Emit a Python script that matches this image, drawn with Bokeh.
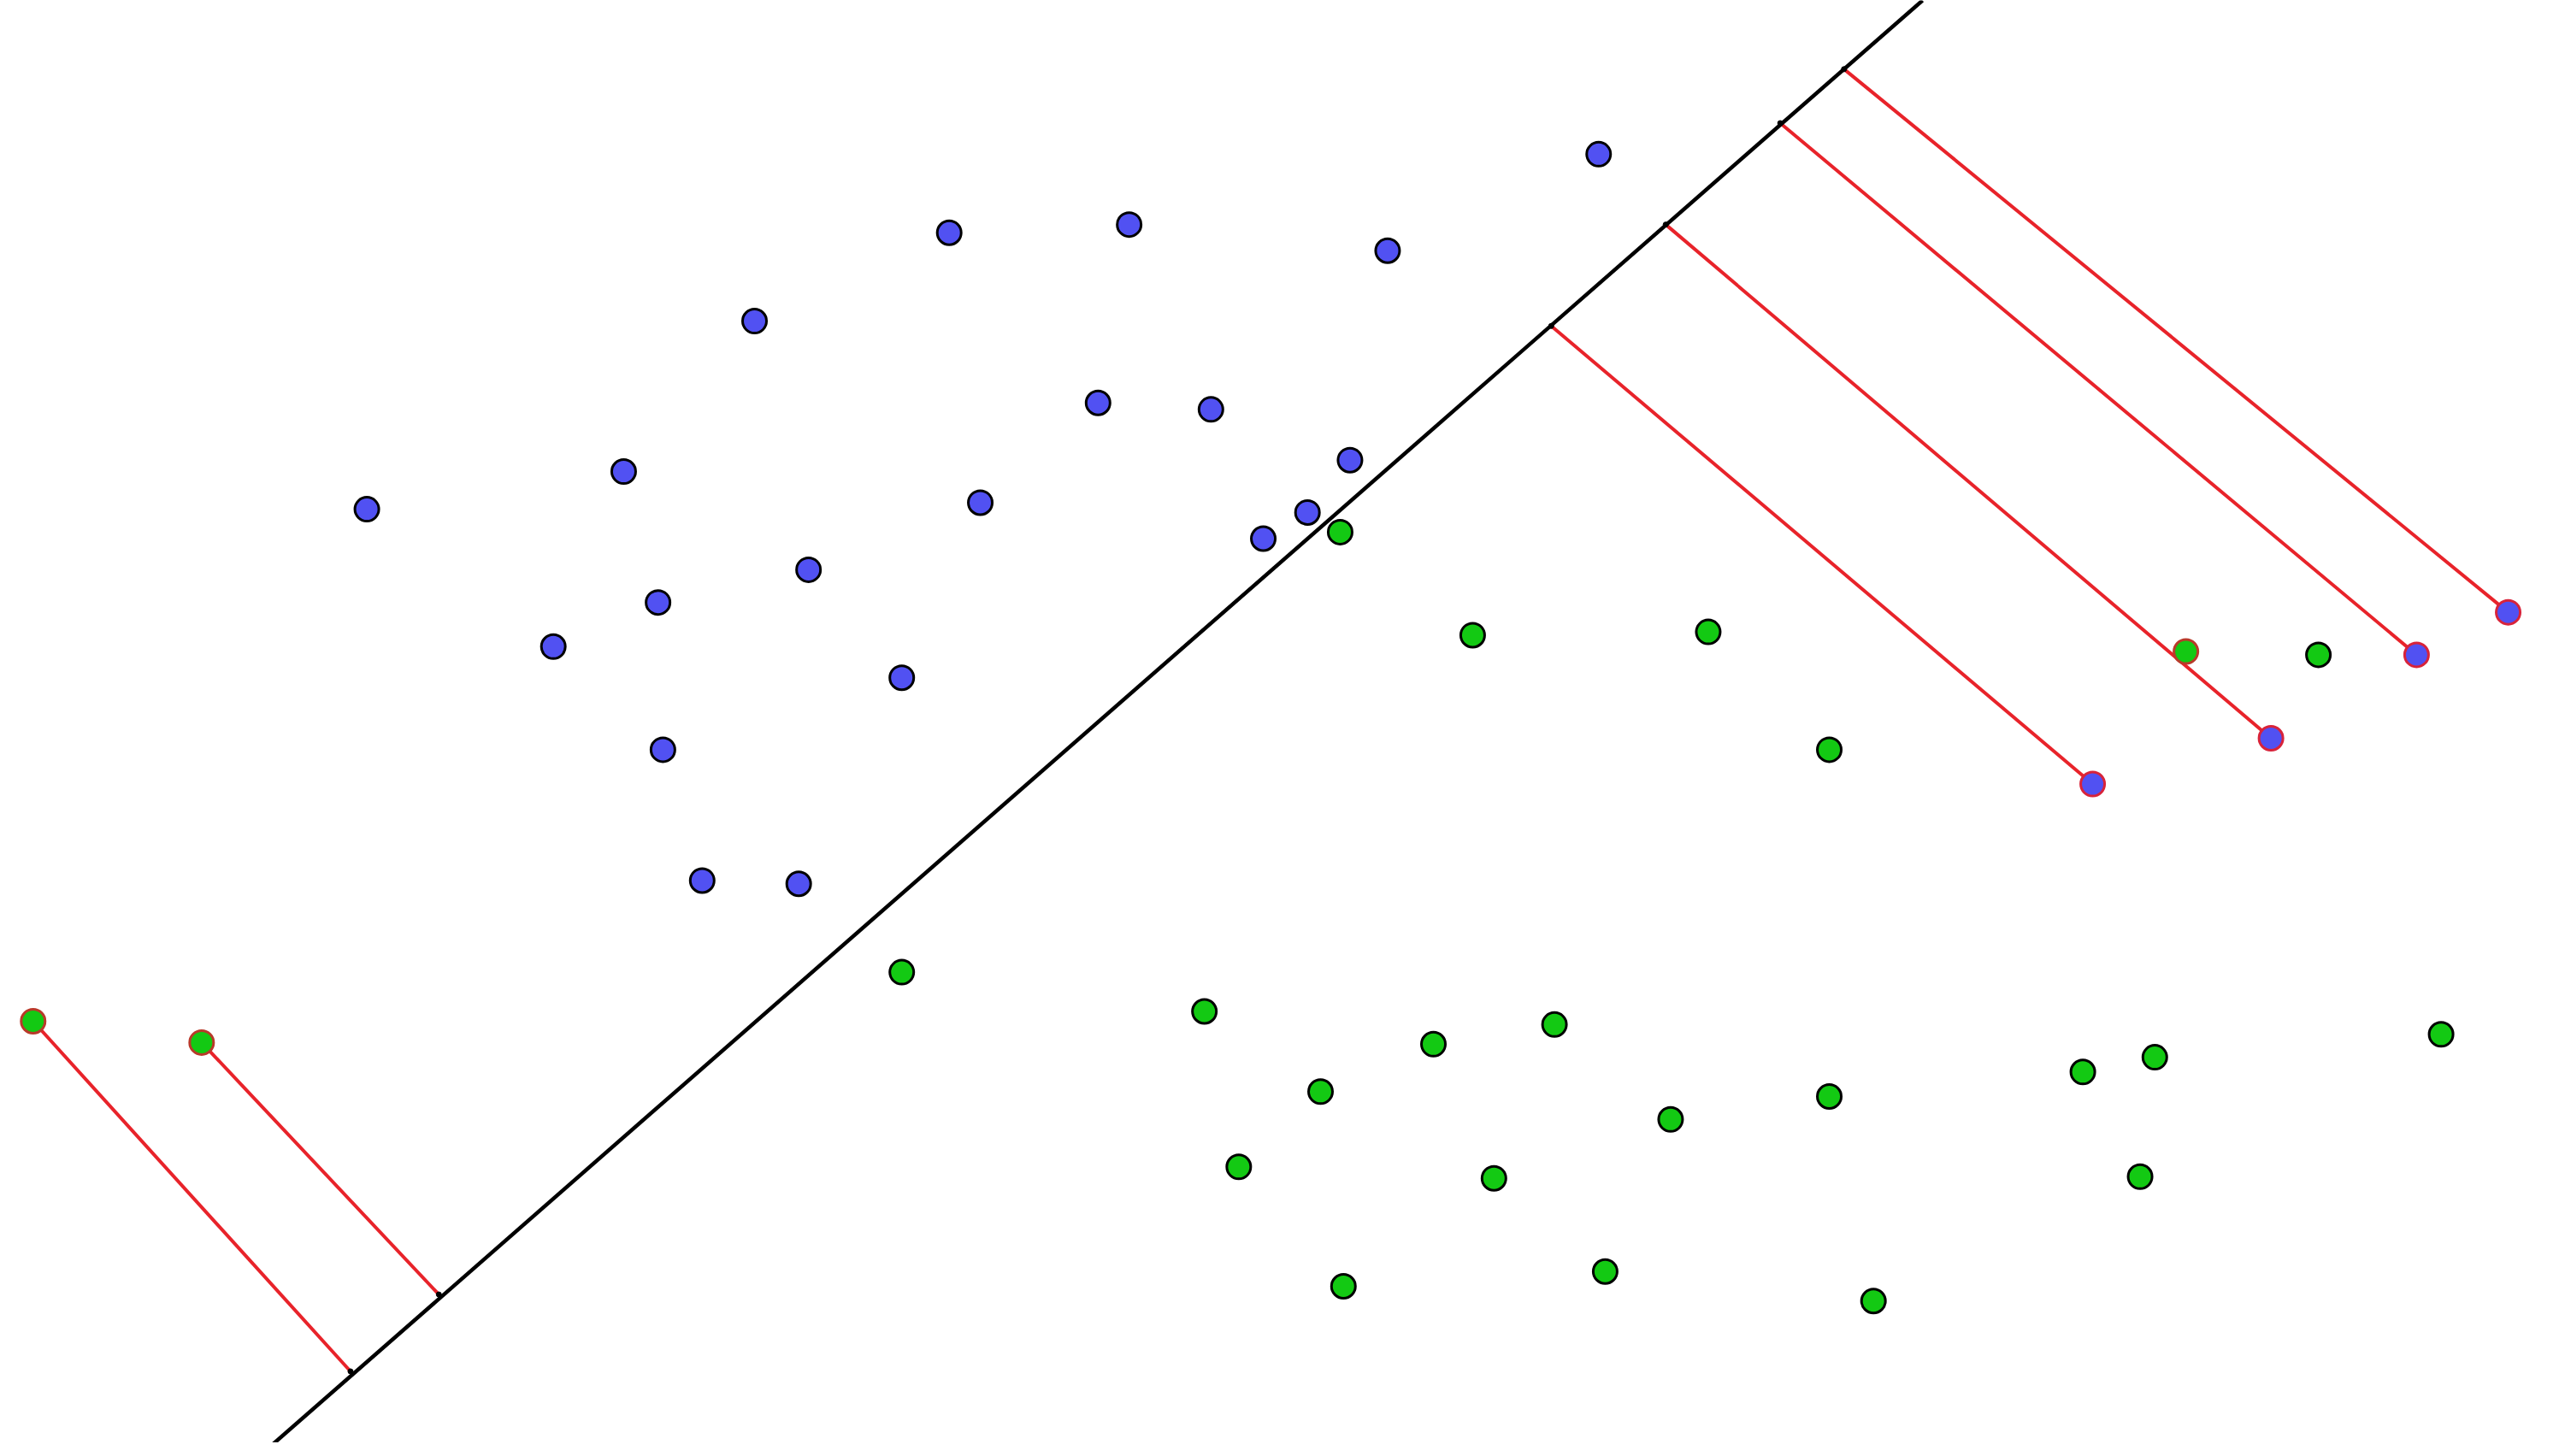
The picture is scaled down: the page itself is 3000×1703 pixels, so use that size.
from bokeh.plotting import figure
from bokeh.models import Range1d
from bokeh.embed import file_html
from bokeh.resources import INLINE

# Data in the reference frame (x to the right, y downward; 1568 x 890 units)
blue_x = [224, 381, 461, 580, 690, 848, 977, 671, 740, 825, 799, 772, 599, 494, 402, 338, 551, 405, 429, 488]
blue_y = [311, 288, 196, 142, 137, 153, 94, 246, 250, 281, 313, 329, 307, 348, 368, 395, 414, 458, 538, 540]

green_x = [819, 900, 1044, 1118, 1417, 1492, 1317, 1273, 1308, 1118, 1021, 950, 876, 807, 736, 757, 913, 821, 981, 1145, 551]
green_y = [325, 388, 386, 458, 400, 632, 646, 655, 719, 670, 684, 626, 638, 667, 618, 713, 720, 786, 777, 795, 594]

# misclassified points (red outline) with their feet on the separating line
mis_blue_x = [1279, 1388, 1477, 1533]
mis_blue_y = [479, 451, 400, 374]
mis_blue_foot_x = [948, 1018, 1088, 1127]
mis_blue_foot_y = [199, 137, 75, 42]

mis_green_x = [20, 123, 1336]
mis_green_y = [624, 637, 398]
mis_green_foot_x = [214, 268, None]
mis_green_foot_y = [838, 791, None]

# separating line end points
sep_x = [158, 1175]
sep_y = [890, 0]

W, H = 3000, 1703
kx, ky = 1568 / W, 890 / H

p = figure(width=W - 16, height=H - 16, output_backend="svg", toolbar_location=None,
           x_axis_type=None, y_axis_type=None,
           x_range=Range1d(0, (W - 16) * kx),
           y_range=Range1d((H - 16) * ky, 0),
           min_border=0, outline_line_color=None, background_fill_color="white",
           border_fill_color="white")
p.grid.visible = False

# red projection segments
sx0, sy0, sx1, sy1 = [], [], [], []
for x, y, fx, fy in zip(mis_blue_x, mis_blue_y, mis_blue_foot_x, mis_blue_foot_y):
    sx0.append(x); sy0.append(y); sx1.append(fx); sy1.append(fy)
for x, y, fx, fy in zip(mis_green_x, mis_green_y, mis_green_foot_x, mis_green_foot_y):
    if fx is not None:
        sx0.append(x); sy0.append(y); sx1.append(fx); sy1.append(fy)
p.segment(x0=sx0, y0=sy0, x1=sx1, y1=sy1, line_color="#e8232a", line_width=4)

# separating line
p.line(sep_x, sep_y, line_color="black", line_width=4.5)
p.scatter(mis_blue_foot_x + mis_green_foot_x[:2], mis_blue_foot_y + mis_green_foot_y[:2],
          size=6, fill_color="black", line_color="black")

BLUE = "#5151f2"
GREEN = "#13c913"
p.scatter(blue_x, blue_y, size=28, fill_color=BLUE, line_color="black", line_width=3)
p.scatter(green_x, green_y, size=28, fill_color=GREEN, line_color="black", line_width=3)
p.scatter(mis_blue_x, mis_blue_y, size=28, fill_color=BLUE, line_color="#d8233a", line_width=3)
p.scatter(mis_green_x, mis_green_y, size=28, fill_color=GREEN, line_color="#b83a2a", line_width=3)

open("out.html", "w").write(file_html(p, INLINE))
